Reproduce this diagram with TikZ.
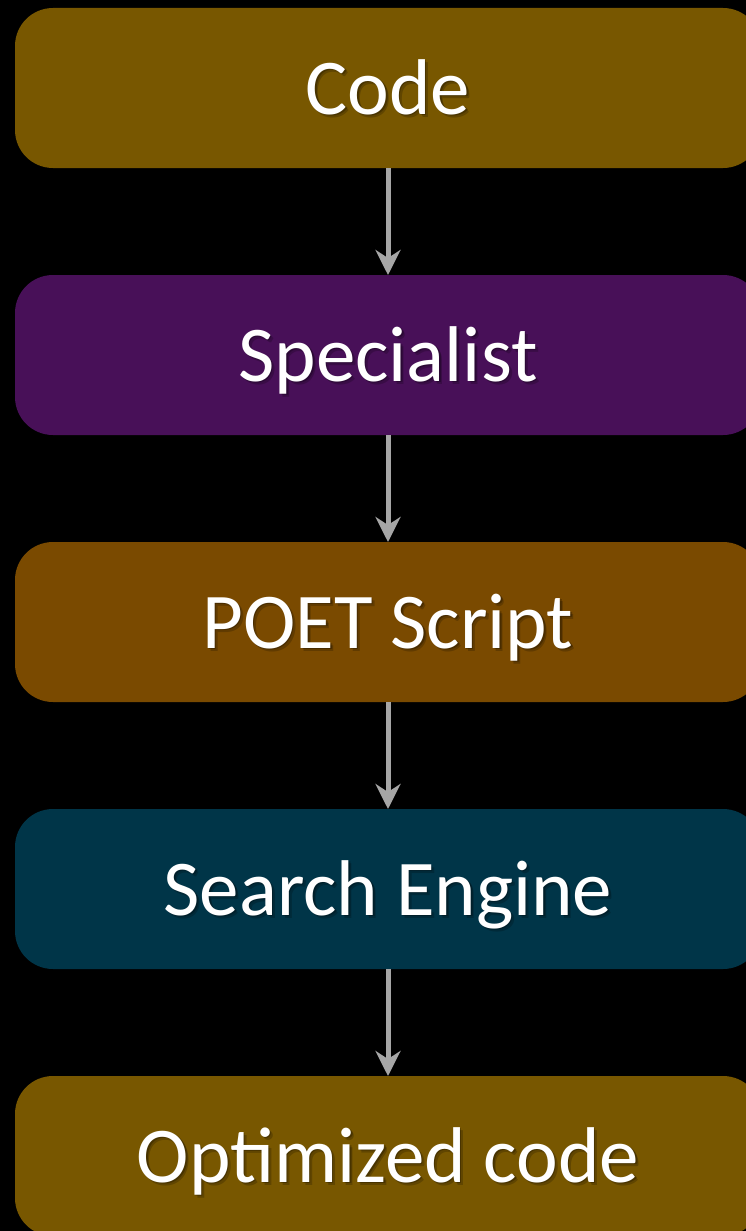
\documentclass[tikz,border=0pt]{standalone}
\usepackage{fontspec}
\setmainfont{Carlito}
\usetikzlibrary{arrows.meta}
\definecolor{ochre}{HTML}{785700}
\definecolor{plum}{HTML}{481058}
\definecolor{rust}{HTML}{7A4A00}
\definecolor{teal}{HTML}{003548}
\definecolor{arrowgray}{HTML}{A6A6A6}
\tikzset{
  stage/.style={fill=#1, rounded corners=38pt},
  label/.style={anchor=base, text=white, font=\fontsize{79}{90}\selectfont, inner sep=0pt},
  shade/.style={anchor=base, text=black, opacity=#1, font=\fontsize{79}{90}\selectfont, inner sep=0pt},
  flow/.style={draw=arrowgray, line width=5pt, -{Stealth[length=25pt, width=25pt, inset=8pt]}},
}
\begin{document}
\begin{tikzpicture}[x=1pt, y=-1pt]
  \fill[black] (0,0) rectangle (746,1231);
  \useasboundingbox (0,0) rectangle (746,1231);
  % stage boxes, each 160 tall, spaced 267 apart
  \foreach \n/\c/\col in {1/88/ochre, 2/355/plum, 3/622/rust, 4/889/teal, 5/1156/ochre}{
    \path[stage=\col] (15,\c-80) rectangle (761,\c+80);
    \coordinate (top\n) at (388,\c-80);
    \coordinate (bot\n) at (388,\c+80);
  }
  % stage titles with a soft drop shadow
  \foreach \c/\t in {88/Code, 355/Specialist, 622/POET Script, 889/Search Engine, 1156/Optimized code}{
    \node[shade=0.2] at (391,\c+29) {\t};
    \node[shade=0.25] at (389.5,\c+27.5) {\t};
    \node[label] (t\c) at (388,\c+26) {\t};
  }
  % connectors between stages
  \draw[flow] (bot1) -- (top2);
  \draw[flow] (bot2) -- (top3);
  \draw[flow] (bot3) -- (top4);
  \draw[flow] (bot4) -- (top5);
\end{tikzpicture}
\end{document}
